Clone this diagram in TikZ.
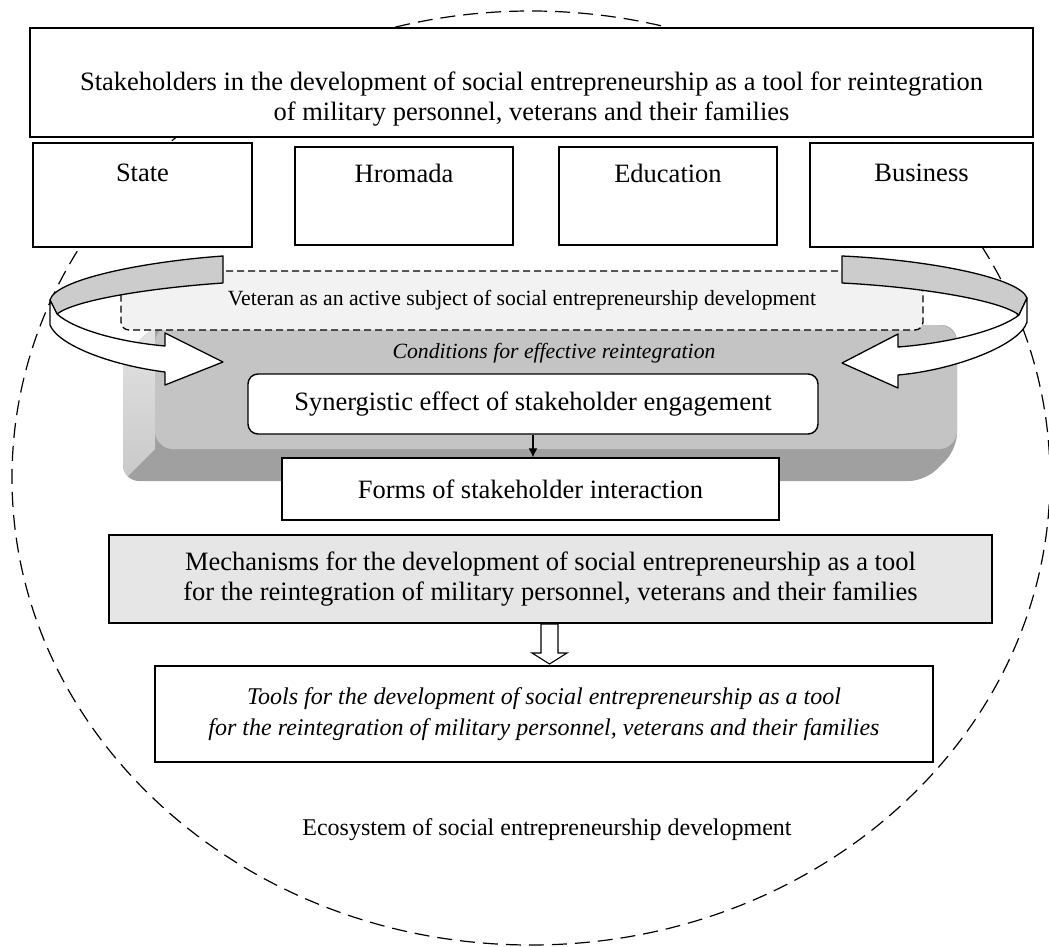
\documentclass[tikz,border=0pt]{standalone}
\usepackage{fontspec}
\setmainfont{Liberation Serif}
\usetikzlibrary{arrows.meta}
\definecolor{bandgray}{RGB}{204,204,204}
\definecolor{platgray}{RGB}{196,196,196}
\definecolor{botgray}{RGB}{160,160,160}
\definecolor{leftgray}{RGB}{228,228,228}
\definecolor{leftgraydark}{RGB}{200,200,200}
\definecolor{vetfill}{RGB}{242,242,242}
\definecolor{mechfill}{RGB}{230,230,230}
\begin{document}
\begin{tikzpicture}[x=1pt,y=-1pt,line width=1.4pt,
  box/.style={draw, fill=white, inner sep=0pt, align=center},
  bigtext/.style={font=\fontsize{26.5}{30.5}\selectfont, align=center},
  midtext/.style={font=\fontsize{21.7}{25}\selectfont, align=center},
  toolstext/.style={font=\itshape\fontsize{24}{31}\selectfont, align=center},
  band/.style={draw, line width=1.3pt, line join=round},
  ecodash/.style={draw, line width=1.2pt, dash pattern=on 15pt off 8pt}]
\useasboundingbox (0,0) rectangle (1049,947);

% ecosystem ellipse
\path[ecodash] (531,478) ellipse [x radius=519pt, y radius=467pt];

% title and stakeholder boxes
\node[box, minimum width=1003pt, minimum height=109pt] (title) at (531.5,82.5) {};
\node[bigtext] (titlet) at (531.5,99) {Stakeholders in the development of social entrepreneurship as a tool for reintegration\\of military personnel, veterans and their families};

\node[box, minimum width=219pt, minimum height=104pt] (state) at (142.5,195) {};
\node[bigtext] (statet) at (142.5,173) {State};
\node[box, minimum width=218pt, minimum height=98pt] (hromada) at (404,196) {};
\node[bigtext] (hromadat) at (404,173) {Hromada};
\node[box, minimum width=218pt, minimum height=98pt] (education) at (668,196) {};
\node[bigtext] (educationt) at (668,173) {Education};
\node[box, minimum width=223pt, minimum height=104pt] (business) at (921.5,195) {};
\node[bigtext] (businesst) at (921.5,173) {Business};

% 3D bevelled box
\begin{scope}
  \clip[rounded corners=16pt] (155,325) -- (957,325) -- (957,449) -- (925,481) -- (123,481) -- (123,357) -- cycle;
  \fill[botgray] (100,300) rectangle (980,500);
  \shade[top color=leftgray, bottom color=leftgraydark] (155,325) -- (155,449) -- (123,481) -- (123,357) -- cycle;
\end{scope}
\fill[platgray, rounded corners=18pt] (155,325) rectangle (957,449);

% veteran dashed box
\node[draw, line width=1.3pt, dash pattern=on 7pt off 4pt, fill=vetfill, rounded corners=8pt,
      minimum width=802pt, minimum height=59pt, inner sep=0pt, midtext] (vet) at (522,300.5)
      {Veteran as an active subject of social entrepreneurship development};

% left curved arrow
\path[band, fill=bandgray] (223,256) .. controls (140,262) and (55,280) .. (50,300)
   -- (57,314) .. controls (75,300) and (150,288) .. (223,283) -- cycle;
\path[band, fill=white] (57,314) .. controls (75,330) and (120,342) .. (165,346)
   -- (165,333) -- (223,362) -- (165,385) -- (165,372)
   .. controls (110,365) and (58,345) .. (50,325) -- (50,300) -- cycle;

% right curved arrow
\path[band, fill=bandgray] (842,256) .. controls (930,260) and (1020,278) .. (1027,298)
   -- (1019,315) .. controls (1000,300) and (920,287) .. (842,283) -- cycle;
\path[band, fill=white] (1019,315) .. controls (1000,330) and (950,343) .. (898,347)
   -- (898,334) -- (842,363) -- (898,388) -- (898,375)
   .. controls (955,370) and (1020,345) .. (1027,322) -- (1027,298) -- cycle;

\node[midtext, font=\itshape\fontsize{21.7}{25}\selectfont] (cond) at (554,353) {Conditions for effective reintegration};

\node[draw, fill=white, rounded corners=10pt, minimum width=570pt, minimum height=60pt, inner sep=0pt, bigtext] (syn) at (533,404) {Synergistic effect of stakeholder engagement};

\node[box, minimum width=497pt, minimum height=62pt, bigtext] (forms) at (530.5,489) {Forms of stakeholder interaction};

\draw[line width=1.2pt, -{Latex[length=9pt,width=9pt]}] (syn.south) -- (syn.south |- forms.north);

\node[box, fill=mechfill, minimum width=883pt, minimum height=88pt, bigtext] (mech) at (550.5,579)
  {Mechanisms for the development of social entrepreneurship as a tool\\for the reintegration of military personnel, veterans and their families};

\node[box, minimum width=778pt, minimum height=96pt, toolstext] (tools) at (544,714)
  {Tools for the development of social entrepreneurship as a tool\\for the reintegration of military personnel, veterans and their families};

% hollow block arrow
\draw[fill=white, line width=1.1pt, line join=miter] (541,624) -- (558,624) -- (558,653) -- (567,653)
  -- (549.5,664) -- (532,653) -- (541,653) -- cycle;

\node[font=\fontsize{24}{28}\selectfont] (eco) at (547,830) {Ecosystem of social entrepreneurship development};
\end{tikzpicture}
\end{document}
